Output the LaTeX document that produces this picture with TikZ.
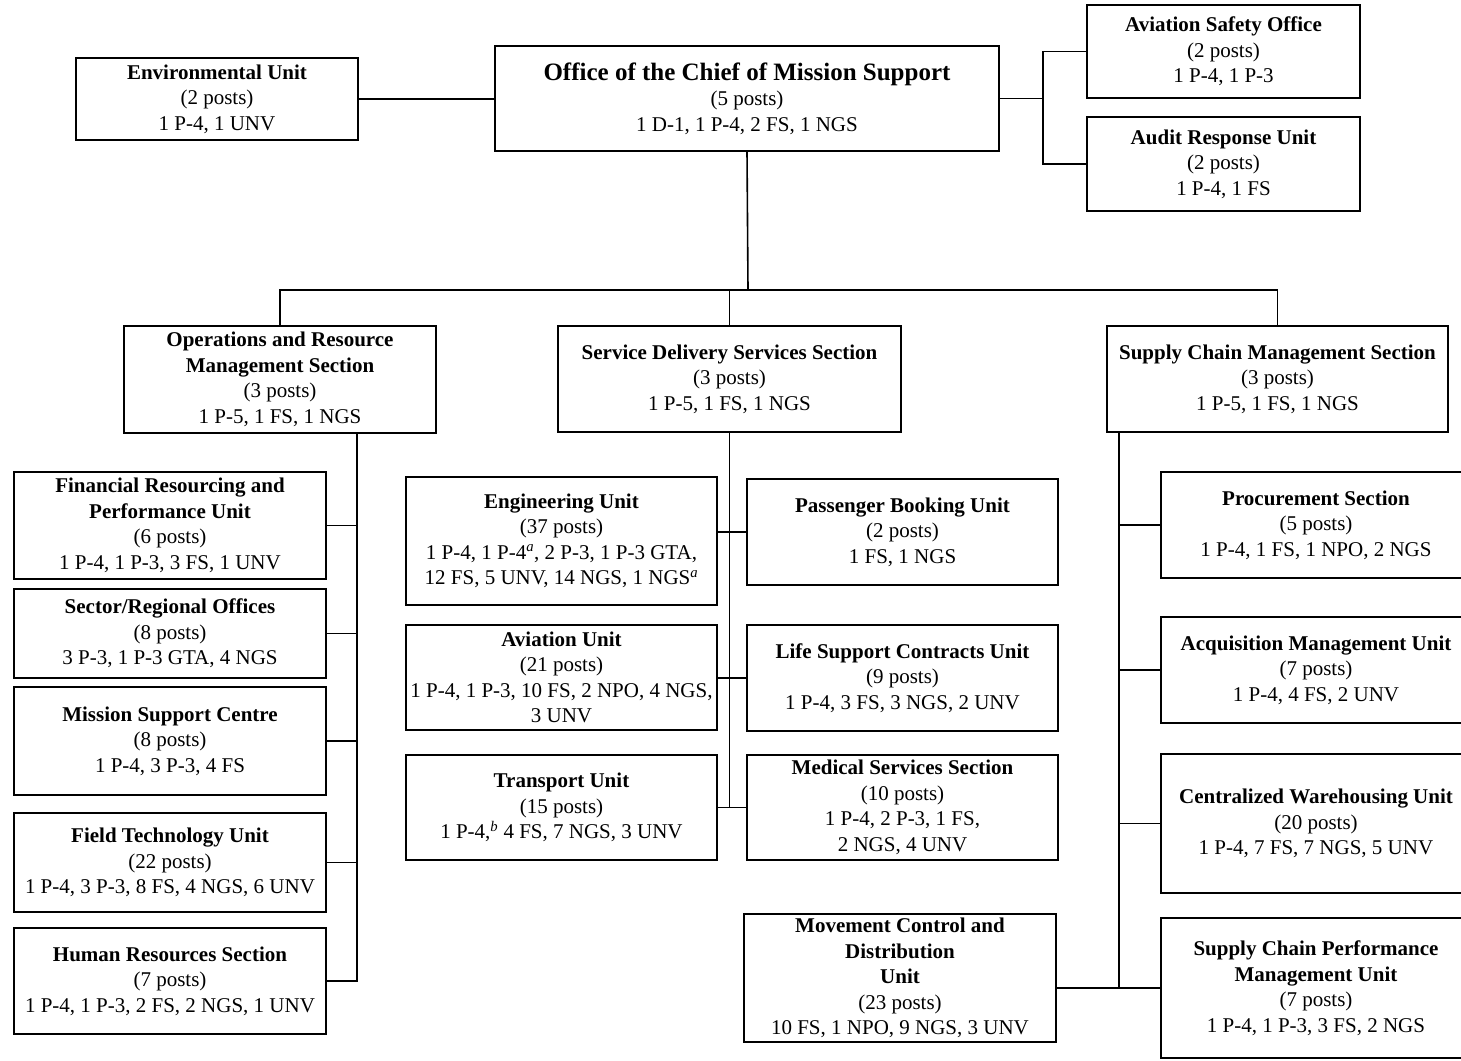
\documentclass[tikz,border=0pt]{standalone}
\usepackage{fontspec}
\setmainfont{Liberation Serif}
\begin{document}
\begin{tikzpicture}[x=1pt, y=-1pt,
    unit/.style={draw, line width=1.6pt, align=center, inner sep=0pt,
        font=\fontsize{21}{25.5}\selectfont},
    link/.style={line width=1.6pt}]
    \useasboundingbox (0,0) rectangle (1461,1060);
    % top level
    \node[unit, minimum width=504pt, minimum height=105pt] (office) at (747,98.5)
        {{\fontsize{25}{28}\selectfont\textbf{Office of the Chief of Mission Support}}\\(5 posts)\\1 D-1, 1 P-4, 2 FS, 1 NGS};
    \node[unit, minimum width=282pt, minimum height=82pt] (env) at (217,99)
        {\textbf{Environmental Unit}\\(2 posts)\\1 P-4, 1 UNV};
    \node[unit, minimum width=273pt, minimum height=93pt] (aso) at (1223.5,51.5)
        {\textbf{Aviation Safety Office}\\(2 posts)\\1 P-4, 1 P-3};
    \node[unit, minimum width=273pt, minimum height=94pt] (aru) at (1223.5,164)
        {\textbf{Audit Response Unit}\\(2 posts)\\1 P-4, 1 FS};
    % sections
    \node[unit, minimum width=312pt, minimum height=107pt] (ops) at (280,379.5)
        {\textbf{Operations and Resource}\\\textbf{Management Section}\\(3 posts)\\1 P-5, 1 FS, 1 NGS};
    \node[unit, minimum width=343pt, minimum height=106pt] (sds) at (729.5,379)
        {\textbf{Service Delivery Services Section}\\(3 posts)\\1 P-5, 1 FS, 1 NGS};
    \node[unit, minimum width=341pt, minimum height=106pt] (scm) at (1277.5,379)
        {\textbf{Supply Chain Management Section}\\(3 posts)\\1 P-5, 1 FS, 1 NGS};
    % operations and resource management
    \node[unit, minimum width=312pt, minimum height=107pt] (frp) at (170,525.5)
        {\textbf{Financial Resourcing and}\\\textbf{Performance Unit}\\(6 posts)\\1 P-4, 1 P-3, 3 FS, 1 UNV};
    \node[unit, minimum width=312pt, minimum height=89pt] (sro) at (170,633.5)
        {\textbf{Sector/Regional Offices}\\(8 posts)\\3 P-3, 1 P-3 GTA, 4 NGS};
    \node[unit, minimum width=312pt, minimum height=108pt] (msc) at (170,741)
        {\textbf{Mission Support Centre}\\(8 posts)\\1 P-4, 3 P-3, 4 FS};
    \node[unit, minimum width=312pt, minimum height=99pt] (ftu) at (170,862.5)
        {\textbf{Field Technology Unit}\\(22 posts)\\1 P-4, 3 P-3, 8 FS, 4 NGS, 6 UNV};
    \node[unit, minimum width=312pt, minimum height=106pt] (hrs) at (170,981)
        {\textbf{Human Resources Section}\\(7 posts)\\1 P-4, 1 P-3, 2 FS, 2 NGS, 1 UNV};
    % service delivery
    \node[unit, minimum width=311pt, minimum height=128pt] (eng) at (561.5,541)
        {\textbf{Engineering Unit}\\(37 posts)\\1 P-4, 1 P-4\textsuperscript{\textit{a}}, 2 P-3, 1 P-3 GTA,\\12 FS, 5 UNV, 14 NGS, 1 NGS\textsuperscript{\textit{a}}};
    \node[unit, minimum width=311pt, minimum height=105pt] (avu) at (561.5,677.5)
        {\textbf{Aviation Unit}\\(21 posts)\\1 P-4, 1 P-3, 10 FS, 2 NPO, 4 NGS,\\3 UNV};
    \node[unit, minimum width=311pt, minimum height=105pt] (tru) at (561.5,807.5)
        {\textbf{Transport Unit}\\(15 posts)\\1 P-4,\textsuperscript{\textit{b}} 4 FS, 7 NGS, 3 UNV};
    \node[unit, minimum width=311pt, minimum height=106pt] (pbu) at (902.5,532)
        {\textbf{Passenger Booking Unit}\\(2 posts)\\1 FS, 1 NGS};
    \node[unit, minimum width=311pt, minimum height=106pt] (lsc) at (902.5,678)
        {\textbf{Life Support Contracts Unit}\\(9 posts)\\1 P-4, 3 FS, 3 NGS, 2 UNV};
    \node[unit, minimum width=311pt, minimum height=105pt] (med) at (902.5,807.5)
        {\textbf{Medical Services Section}\\(10 posts)\\1 P-4, 2 P-3, 1 FS,\\2 NGS, 4 UNV};
    % supply chain management
    \node[unit, minimum width=310pt, minimum height=106pt] (proc) at (1316,525)
        {\textbf{Procurement Section}\\(5 posts)\\1 P-4, 1 FS, 1 NPO, 2 NGS};
    \node[unit, minimum width=310pt, minimum height=106pt] (acq) at (1316,670)
        {\textbf{Acquisition Management Unit}\\(7 posts)\\1 P-4, 4 FS, 2 UNV};
    \node[unit, minimum width=310pt, minimum height=139pt] (cwu) at (1316,823.5)
        {\textbf{Centralized Warehousing Unit}\\(20 posts)\\1 P-4, 7 FS, 7 NGS, 5 UNV};
    \node[unit, minimum width=310pt, minimum height=140pt] (scp) at (1316,988)
        {\textbf{Supply Chain Performance}\\\textbf{Management Unit}\\(7 posts)\\1 P-4, 1 P-3, 3 FS, 2 NGS};
    \node[unit, minimum width=312pt, minimum height=128pt] (mcd) at (900,978)
        {\textbf{Movement Control and}\\\textbf{Distribution}\\\textbf{Unit}\\(23 posts)\\10 FS, 1 NPO, 9 NGS, 3 UNV};
    % bus points
    \coordinate (tbus) at (1043,98.5);
    \coordinate (split) at (748,290);
    \coordinate (lbus) at (357,433);
    \coordinate (rbus) at (1119,432);
    % top connectors
    \draw[link] (env.east) -- (env.east -| office.west);
    \draw[link] (office.east) -- (tbus);
    \draw[link] (aso.west) -| (tbus) |- (aru.west);
    \draw[link] (office.south) -- (split);
    \draw[link] (ops.north) |- (split) -| (scm.north);
    \draw[link] (sds.north) -- (sds.north |- split);
    % left column
    \draw[link] (lbus) |- (hrs.east);
    \foreach \n in {frp,sro,msc,ftu}
        \draw[link] (\n.east) -- (\n.east -| lbus);
    % middle column
    \draw[link] (sds.south) -- (sds.south |- med.west);
    \foreach \l/\r in {eng/pbu, avu/lsc, tru/med}
        \draw[link] (\r.west -| \l.east) -- (\r.west);
    % right column
    \draw[link] (rbus) -- (rbus |- scp.west);
    \foreach \n in {proc,acq,cwu}
        \draw[link] (\n.west) -- (\n.west -| rbus);
    \draw[link] (scp.west -| mcd.east) -- (scp.west);
\end{tikzpicture}
\end{document}
